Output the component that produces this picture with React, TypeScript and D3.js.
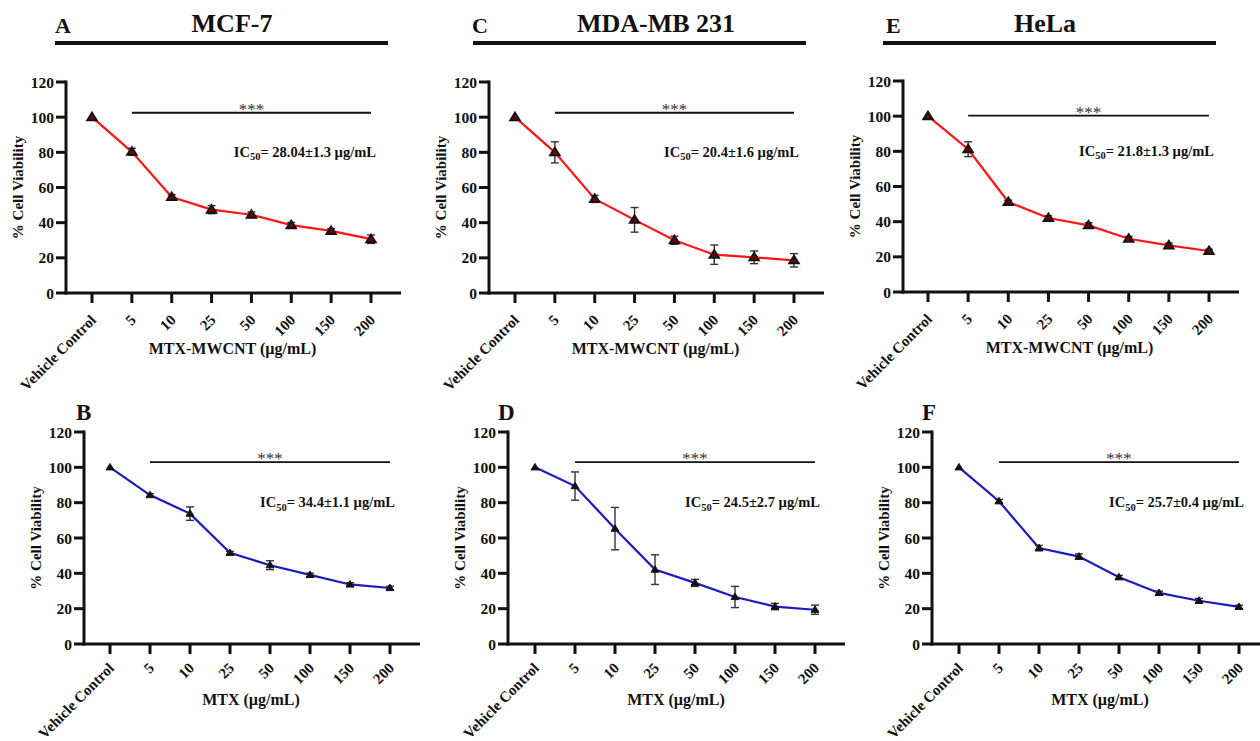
import React from "react";
import * as d3 from "d3";

const categories = ["Vehicle Control", "5", "10", "25", "50", "100", "150", "200"];
const yTicks = [0, 20, 40, 60, 80, 100, 120];

const mcf7Nano = [100, 80.3, 54.6, 47.4, 44.5, 38.6, 35.3, 30.6];
const mcf7NanoErr = [0, 2, 1.3, 2.3, 1.6, 1.5, 1.3, 2.4];
const mdaNano = [100, 80, 53.5, 41.6, 30, 21.8, 20.3, 18.6];
const mdaNanoErr = [0, 6, 2, 7, 2.3, 5.5, 3.6, 3.8];
const helaNano = [100, 81.2, 51.2, 42.1, 37.9, 30.3, 26.5, 23.3];
const helaNanoErr = [0, 4.2, 1, 1.2, 1.5, 1.3, 1.3, 1];

const mcf7Free = [100, 84.3, 73.8, 51.6, 44.6, 39.1, 33.7, 31.7];
const mcf7FreeErr = [0, 0.8, 3.8, 0.8, 2.5, 1, 1, 1];
const mdaFree = [100, 89.4, 65.3, 42.1, 34.6, 26.6, 21.2, 19.4];
const mdaFreeErr = [0, 8, 12, 8.4, 2, 6, 1.8, 2.6];
const helaFree = [100, 80.8, 54.3, 49.5, 37.8, 28.9, 24.5, 21];
const helaFreeErr = [0, 1, 1.5, 1.5, 1, 1, 1.3, 1];

const cellLines = ["MCF-7", "MDA-MB 231", "HeLa"];
const ic50Nano = ["28.04±1.3", "20.4±1.6", "21.8±1.3"];
const ic50Free = ["34.4±1.1", "24.5±2.7", "25.7±0.4"];
const xTitleNano = "MTX-MWCNT (µg/mL)";
const xTitleFree = "MTX (µg/mL)";

const FONT = "'Liberation Serif', 'Times New Roman', serif";

type PanelProps = {
  values: number[];
  errs: number[];
  color: string;
  axisX: number;
  xFirst: number;
  xLast: number;
  y0: number;
  yTop: number;
  xTitle: string;
  ic50: string;
  sigValue: number;
  top: boolean;
};

function Panel(p: PanelProps) {
  const x = d3.scalePoint<string>().domain(categories).range([p.xFirst, p.xLast]);
  const y = d3.scaleLinear().domain([0, 120]).range([p.y0, p.yTop]);
  const pts = categories.map((c, i) => ({ c, v: p.values[i], e: p.errs[i] }));
  const line = d3
    .line<{ c: string; v: number }>()
    .x((d) => x(d.c) as number)
    .y((d) => y(d.v));
  const axisRight = p.xLast + 30;
  const midX = (p.xFirst + p.xLast) / 2 + 1;
  const sigY = y(p.sigValue);
  const x5 = x("5") as number;
  const x200 = x("200") as number;
  const triW = p.top ? 5 : 4;
  const triH = p.top ? 8 : 6.5;
  const titleY = p.y0 + 61;
  const labelDy = p.top ? 28 : 25;
  return (
    <g fontFamily={FONT} fontWeight="bold" fill="#111">
      {/* line */}
      <path d={line(pts) || ""} fill="none" stroke={p.color} strokeWidth={2.2} />
      {/* error bars */}
      {pts.map((d) =>
        d.e > 0 ? (
          <g key={"e" + d.c} stroke="#333" strokeWidth={1.4}>
            <line x1={x(d.c)} x2={x(d.c)} y1={y(d.v + d.e)} y2={y(d.v - d.e)} />
            <line x1={(x(d.c) as number) - 4} x2={(x(d.c) as number) + 4} y1={y(d.v + d.e)} y2={y(d.v + d.e)} />
            <line x1={(x(d.c) as number) - 4} x2={(x(d.c) as number) + 4} y1={y(d.v - d.e)} y2={y(d.v - d.e)} />
          </g>
        ) : null
      )}
      {/* markers */}
      {pts.map((d) => {
        const cx = x(d.c) as number;
        const cy = y(d.v);
        return (
          <path
            key={"m" + d.c}
            d={`M${cx},${cy - triH * 0.6} L${cx + triW},${cy + triH * 0.4} L${cx - triW},${cy + triH * 0.4} Z`}
            fill={p.top ? "#5a0a0a" : "#111"}
            stroke="#111"
            strokeWidth={p.top ? 1.6 : 1}
          />
        );
      })}
      {/* y axis */}
      <line x1={p.axisX} x2={p.axisX} y1={p.yTop - 1.5} y2={p.y0 + 1.5} stroke="#111" strokeWidth={3} />
      {yTicks.map((t) => (
        <g key={"y" + t}>
          <line x1={p.axisX - 10} x2={p.axisX} y1={y(t)} y2={y(t)} stroke="#111" strokeWidth={3} />
          <text x={p.axisX - 12} y={y(t)} dy="0.36em" textAnchor="end" fontSize={15.5}>
            {t}
          </text>
        </g>
      ))}
      {/* x axis */}
      <line x1={p.axisX - 1.5} x2={axisRight} y1={p.y0} y2={p.y0} stroke="#111" strokeWidth={3} />
      {categories.map((c) => (
        <g key={"x" + c}>
          <line x1={x(c)} x2={x(c)} y1={p.y0} y2={p.y0 + 10} stroke="#111" strokeWidth={3} />
          <text
            transform={`translate(${(x(c) as number) + 5},${p.y0 + labelDy}) rotate(-45)`}
            textAnchor="end"
            fontSize={15}
          >
            {c}
          </text>
        </g>
      ))}
      {/* axis titles */}
      <text x={midX} y={titleY} textAnchor="middle" fontSize={16}>
        {p.xTitle}
      </text>
      <text
        transform={`translate(${p.axisX - 43},${(p.y0 + p.yTop) / 2}) rotate(-90)`}
        textAnchor="middle"
        fontSize={15}
      >
        % Cell Viability
      </text>
      {/* significance */}
      <line x1={x5} x2={x200} y1={sigY} y2={sigY} stroke="#111" strokeWidth={1.8} />
      <text x={(x5 + x200) / 2} y={sigY + 2} textAnchor="middle" fontSize={17} fontWeight="normal" fill="#333">
        ***
      </text>
      {/* IC50 */}
      <text x={x200 + 5} y={y(77.5)} textAnchor="end" fontSize={14.5}>
        IC
        <tspan fontSize={10.5} dy={3.5}>
          50
        </tspan>
        <tspan dy={-3.5}>{"= " + p.ic50 + " µg/mL"}</tspan>
      </text>
    </g>
  );
}

const topLayout = [
  { axisX: 66, xFirst: 92, xLast: 371, y0: 293, yTop: 82, sig: 102.5, letter: "A", letterX: 55, lineX1: 55, lineX2: 388, titleX: 232 },
  { axisX: 489, xFirst: 515, xLast: 794, y0: 293, yTop: 82, sig: 102.5, letter: "C", letterX: 472, lineX1: 473, lineX2: 806, titleX: 656 },
  { axisX: 903, xFirst: 928, xLast: 1209, y0: 292, yTop: 81, sig: 100.3, letter: "E", letterX: 886, lineX1: 883, lineX2: 1216, titleX: 1045 },
];
const bottomLayout = [
  { axisX: 84, xFirst: 110, xLast: 390, y0: 644, yTop: 432, sig: 103, letter: "B", letterX: 76 },
  { axisX: 508, xFirst: 535, xLast: 815, y0: 644, yTop: 432, sig: 103, letter: "D", letterX: 498 },
  { axisX: 932, xFirst: 959, xLast: 1239, y0: 644, yTop: 432, sig: 103, letter: "F", letterX: 922 },
];

const nanoValues = [mcf7Nano, mdaNano, helaNano];
const nanoErrs = [mcf7NanoErr, mdaNanoErr, helaNanoErr];
const freeValues = [mcf7Free, mdaFree, helaFree];
const freeErrs = [mcf7FreeErr, mdaFreeErr, helaFreeErr];

export default function App() {
  return (
    <svg
      width={1260}
      height={741}
      style={{ position: "absolute", left: 0, top: 0, background: "#fff" }}
    >
      <rect width={1260} height={741} fill="#fff" />
      {topLayout.map((l, i) => (
        <g key={"top" + i}>
          <text x={l.letterX} y={33} fontFamily={FONT} fontWeight="bold" fontSize={22} fill="#111">
            {l.letter}
          </text>
          <text x={l.titleX} y={32} fontFamily={FONT} fontWeight="bold" fontSize={26} textAnchor="middle" fill="#111">
            {cellLines[i]}
          </text>
          <line x1={l.lineX1} x2={l.lineX2} y1={43} y2={43} stroke="#111" strokeWidth={4} />
          <Panel
            values={nanoValues[i]}
            errs={nanoErrs[i]}
            color="#ff1414"
            axisX={l.axisX}
            xFirst={l.xFirst}
            xLast={l.xLast}
            y0={l.y0}
            yTop={l.yTop}
            xTitle={xTitleNano}
            ic50={ic50Nano[i]}
            sigValue={l.sig}
            top={true}
          />
        </g>
      ))}
      {bottomLayout.map((l, i) => (
        <g key={"bot" + i}>
          <text x={l.letterX} y={420} fontFamily={FONT} fontWeight="bold" fontSize={23} fill="#111">
            {l.letter}
          </text>
          <Panel
            values={freeValues[i]}
            errs={freeErrs[i]}
            color="#1a1ac0"
            axisX={l.axisX}
            xFirst={l.xFirst}
            xLast={l.xLast}
            y0={l.y0}
            yTop={l.yTop}
            xTitle={xTitleFree}
            ic50={ic50Free[i]}
            sigValue={l.sig}
            top={false}
          />
        </g>
      ))}
    </svg>
  );
}
